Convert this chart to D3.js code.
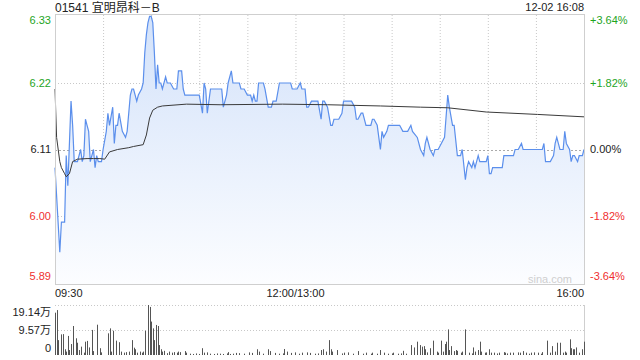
<!DOCTYPE html>
<html>
<head>
<meta charset="utf-8">
<script src="https://cdn.jsdelivr.net/npm/d3@7"></script>
<style>
  body { margin: 0; background: #fff; }
  text { font-family: "Liberation Sans", Arial, "Noto Sans CJK SC", sans-serif; }
</style>
</head>
<body>
<script>
// chart values
const title = "01541 宜明昂科－B";
const stamp = "12-02 16:08";
const prevClose = 6.11;
const priceTicks = [6.33, 6.22, 6.11, 6.00, 5.89];
const pctTicks = ["+3.64%", "+1.82%", "0.00%", "-1.82%", "-3.64%"];
const timeLabels = ["09:30", "12:00/13:00", "16:00"];
const timeMins = [0, 150, 330];
const volTicks = [19.14, 9.57, 0];
const volLabels = ["19.14万", "9.57万", "0"];

// minutes since 09:30 (lunch removed) and last price
const priceMin = [0,3,4,6,7,8,10,11,12,14,16,17,18,19,20,21,22,24,25,26,27,29,30,32,33,34,36,37,38,39,40,42,44,45,47,48,49,51,52,54,55,56,57,58,59,60,61,62,63,64,65,66,67,69,70,71,72,74,76,77,79,80,81,90,92,93,94,95,97,104,105,107,108,110,111,115,116,118,120,122,123,124,125,126,127,130,131,133,135,136,138,140,147,148,151,153,154,156,157,158,160,164,166,167,168,170,172,173,174,177,179,180,185,187,188,189,191,192,194,197,198,199,201,203,204,205,207,208,215,217,220,222,223,226,228,230,231,232,234,236,237,239,241,243,245,246,248,249,251,253,254,256,257,258,260,261,262,263,264,265,266,267,269,270,271,272,273,279,280,286,287,289,291,292,295,298,304,305,306,309,311,312,313,314,315,317,318,319,321,322,323,324,326,327,329,330];
const priceVal = [6.08,5.94,5.99,5.99,6.10,6.05,6.19,6.15,6.09,6.09,6.11,6.09,6.10,6.16,6.15,6.14,6.09,6.11,6.08,6.10,6.09,6.09,6.11,6.14,6.17,6.15,6.18,6.12,6.15,6.15,6.17,6.14,6.13,6.14,6.20,6.21,6.21,6.19,6.20,6.21,6.22,6.27,6.30,6.32,6.33,6.33,6.32,6.27,6.21,6.25,6.22,6.22,6.21,6.23,6.22,6.22,6.22,6.21,6.21,6.24,6.24,6.21,6.20,6.20,6.17,6.22,6.21,6.17,6.21,6.21,6.18,6.20,6.22,6.24,6.22,6.22,6.21,6.21,6.20,6.20,6.19,6.20,6.19,6.19,6.22,6.22,6.21,6.18,6.18,6.19,6.19,6.22,6.22,6.21,6.21,6.22,6.21,6.21,6.18,6.18,6.19,6.19,6.16,6.19,6.19,6.18,6.15,6.15,6.16,6.16,6.17,6.19,6.19,6.18,6.16,6.16,6.17,6.17,6.15,6.15,6.16,6.16,6.15,6.11,6.14,6.13,6.14,6.15,6.15,6.14,6.14,6.15,6.14,6.13,6.11,6.10,6.12,6.13,6.11,6.10,6.11,6.11,6.12,6.13,6.20,6.18,6.15,6.15,6.10,6.10,6.11,6.06,6.08,6.09,6.08,6.09,6.08,6.09,6.10,6.09,6.09,6.09,6.09,6.10,6.07,6.07,6.08,6.08,6.10,6.10,6.11,6.11,6.12,6.11,6.11,6.11,6.11,6.12,6.09,6.09,6.10,6.12,6.13,6.12,6.11,6.11,6.14,6.12,6.11,6.09,6.10,6.10,6.09,6.10,6.10,6.11];

// average price line
const avgMin = [0,1,3,4,6,7,9,11,14,20,24,28,31,34,39,46,49,55,57,59,61,64,67,82,103,142,170,203,228,245,269,301,330];
const avgVal = [6.21,6.13,6.09,6.08,6.07,6.065,6.07,6.09,6.094,6.095,6.095,6.095,6.094,6.106,6.11,6.113,6.115,6.118,6.134,6.162,6.175,6.18,6.182,6.185,6.184,6.185,6.184,6.182,6.18,6.179,6.172,6.168,6.164];

// volume, in 万 shares
const volMin = [0,1,2,4,5,6,7,8,9,10,11,13,14,15,16,18,19,20,21,23,24,26,28,29,33,34,35,36,38,40,41,43,44,46,48,49,50,51,53,54,55,56,58,59,60,61,62,63,64,65,66,67,68,70,71,73,74,76,77,78,81,82,84,86,88,90,92,93,95,97,99,101,103,105,107,108,109,111,113,115,118,121,123,126,127,130,133,134,137,140,142,143,145,147,150,152,154,157,159,162,164,166,167,169,171,172,173,176,179,180,183,186,189,192,194,197,198,201,203,205,208,210,211,214,216,217,219,222,224,226,228,229,230,231,232,234,236,238,239,241,242,243,244,245,246,247,249,250,251,253,254,256,258,260,261,262,264,265,266,268,269,271,272,274,276,277,280,281,282,284,286,289,290,292,294,296,297,299,301,303,304,307,309,310,312,313,315,317,318,319,321,322,323,324,325,327,329,330];
const volVal = [16.2,17.2,5.7,7.9,8.0,2.2,1.3,7.3,1.9,4.2,11.1,6.4,4.7,1.9,3.2,0.9,5.1,5.4,2.9,9.6,1.5,11.6,2.6,1.0,8.3,10.2,1.3,9.3,5.5,4.9,1.3,0.9,1.1,1.3,5.7,2.8,2.2,0.9,1.3,0.9,1.3,9.3,19.14,18.4,12.8,10.2,5.7,11.5,11.1,3.8,2.2,1.3,1.6,0.7,1.3,0.9,1.1,0.9,1.3,1.1,1.5,0.9,0.5,0.4,0.6,0.4,2.6,0.9,1.0,0.5,0.4,0.6,0.5,0.4,0.6,1.1,0.4,0.5,0.8,0.7,0.5,1.0,0.8,2.2,1.3,0.5,2.2,1.5,0.8,0.5,0.6,2.3,1.3,0.8,1.0,0.5,0.9,1.0,0.8,0.5,0.6,1.9,2.2,1.3,5.7,2.2,1.3,1.9,0.6,0.9,1.0,0.5,1.5,0.5,0.9,0.5,0.9,0.5,1.9,0.9,0.5,0.6,0.9,0.5,0.6,1.6,0.5,3.8,2.9,5.1,3.8,3.2,3.4,2.2,1.0,2.6,5.5,1.3,0.9,5.5,1.3,4.2,5.1,9.8,1.9,3.4,1.5,1.9,1.6,0.9,1.3,9.8,0.9,0.6,2.9,1.3,1.9,5.1,1.3,0.9,1.0,2.2,0.9,0.9,0.6,0.9,1.1,0.9,0.6,0.9,0.9,1.0,0.9,1.5,0.9,0.5,0.9,1.0,0.9,0.5,1.1,5.5,0.9,3.4,1.3,4.7,4.7,0.9,1.3,0.9,6.0,2.6,2.2,2.2,2.9,0.9,2.2,5.1];

function main(){
    const svg = d3.select("body").append("svg")
        .attr("width", 640)
        .attr("height", 360);

    const left = 55, right = 584, top = 15, bottom = 284;
    const volTop = 305, volBottom = 355;
    const green = "#1ea51e", red = "#ef2f2f", grid = "#c8c8c8";

    const maxPct = 0.0364;
    const xScale = d3.scaleLinear().domain([0, 330]).range([left, right]);
    const yScale = d3.scaleLinear()
        .domain([prevClose * (1 - maxPct), prevClose * (1 + maxPct)])
        .range([bottom, top]);
    const vScale = d3.scaleLinear().domain([0, 19.14]).range([volBottom, volTop]);

    const prices = priceMin.map((m, i) => ({m: m, v: priceVal[i]}));
    const avgs = avgMin.map((m, i) => ({m: m, v: avgVal[i]}));
    const vols = volMin.map((m, i) => ({m: m, v: volVal[i]}));

    // gradient for the area
    const grad = svg.append("defs").append("linearGradient")
        .attr("id", "fillGrad").attr("x1", 0).attr("y1", 0).attr("x2", 0).attr("y2", 1);
    grad.append("stop").attr("offset", "0%").attr("stop-color", "#d3e2fa");
    grad.append("stop").attr("offset", "100%").attr("stop-color", "#fcfdff");

    // title + time stamp
    svg.append("text").attr("x", left).attr("y", 12)
        .attr("font-size", "12px").attr("fill", "#222").text(title);
    svg.append("text").attr("x", right).attr("y", 11).attr("text-anchor", "end")
        .attr("font-size", "11px").attr("fill", "#222").text(stamp);

    // grid
    const vLines = d3.range(30, 330, 30);
    svg.selectAll(".vgrid").data(vLines).enter().append("line")
        .attr("x1", d => xScale(d) + 0.5).attr("x2", d => xScale(d) + 0.5)
        .attr("y1", top).attr("y2", bottom)
        .attr("stroke", grid).attr("stroke-dasharray", "1,2");
    svg.selectAll(".hgrid").data(priceTicks.slice(1, 4)).enter().append("line")
        .attr("x1", left).attr("x2", right)
        .attr("y1", d => Math.round(yScale(d)) + 0.5).attr("y2", d => Math.round(yScale(d)) + 0.5)
        .attr("stroke", d => d === prevClose ? "#aaa" : grid)
        .attr("stroke-dasharray", d => d === prevClose ? "2,2" : "1,2");

    // area + price line
    svg.append("path").datum(prices)
        .attr("d", d3.area().x(d => xScale(d.m)).y0(bottom).y1(d => yScale(d.v)))
        .attr("fill", "url(#fillGrad)");
    svg.append("path").datum(prices)
        .attr("d", d3.line().x(d => xScale(d.m)).y(d => yScale(d.v)))
        .attr("fill", "none").attr("stroke", "#5b8fec").attr("stroke-width", 1.2);
    svg.append("path").datum(avgs)
        .attr("d", d3.line().x(d => xScale(d.m)).y(d => yScale(d.v)))
        .attr("fill", "none").attr("stroke", "#3a3a3a").attr("stroke-width", 1);

    // frame
    svg.append("rect").attr("x", left + 0.5).attr("y", top - 0.5)
        .attr("width", right - left).attr("height", bottom - top + 1)
        .attr("fill", "none").attr("stroke", "#cfcfcf");

    svg.append("text").attr("x", right - 12).attr("y", 283)
        .attr("text-anchor", "end").attr("font-size", "11px").attr("fill", "#cfcfcf")
        .text("sina.com");

    // price labels (left) and percent labels (right)
    const labelY = (d, i) => i === 0 ? yScale(d) + 4 : (i === priceTicks.length - 1 ? yScale(d) - 6 : yScale(d));
    const tickColor = d => d > prevClose ? green : (d < prevClose ? red : "#222");
    svg.selectAll(".plab").data(priceTicks).enter().append("text")
        .attr("x", 51).attr("y", labelY).attr("dy", "0.35em")
        .attr("text-anchor", "end").attr("font-size", "11px")
        .attr("fill", tickColor).text(d => d.toFixed(2));
    svg.selectAll(".rlab").data(priceTicks).enter().append("text")
        .attr("x", 590).attr("y", labelY).attr("dy", "0.35em")
        .attr("font-size", "11px").attr("fill", tickColor)
        .text((d, i) => pctTicks[i]);

    // time labels
    svg.selectAll(".tlab").data(timeMins).enter().append("text")
        .attr("x", d => xScale(d)).attr("y", 293).attr("dy", "0.35em")
        .attr("text-anchor", (d, i) => i === 0 ? "start" : (i === 2 ? "end" : "middle"))
        .attr("font-size", "11px").attr("fill", "#222")
        .text((d, i) => timeLabels[i]);

    // volume panel
    svg.selectAll(".vg").data(volTicks.slice(0, 2)).enter().append("line")
        .attr("x1", left).attr("x2", right)
        .attr("y1", d => vScale(d) + 0.5).attr("y2", d => vScale(d) + 0.5)
        .attr("stroke", grid).attr("stroke-dasharray", "1,2");
    svg.append("line").attr("x1", right + 0.5).attr("x2", right + 0.5)
        .attr("y1", volTop).attr("y2", volBottom).attr("stroke", "#cfcfcf");

    svg.selectAll(".bar").data(vols).enter().append("rect")
        .attr("x", d => Math.round(xScale(d.m)))
        .attr("y", d => vScale(d.v))
        .attr("width", 1)
        .attr("height", d => volBottom - vScale(d.v))
        .attr("fill", "#555");

    const volY = [312, 330, 348];
    svg.selectAll(".vlab").data(volLabels).enter().append("text")
        .attr("x", 51).attr("y", (d, i) => volY[i]).attr("dy", "0.35em")
        .attr("text-anchor", "end").attr("font-size", "11px").attr("fill", "#222")
        .text(d => d);
}
main();
</script>
</body>
</html>
